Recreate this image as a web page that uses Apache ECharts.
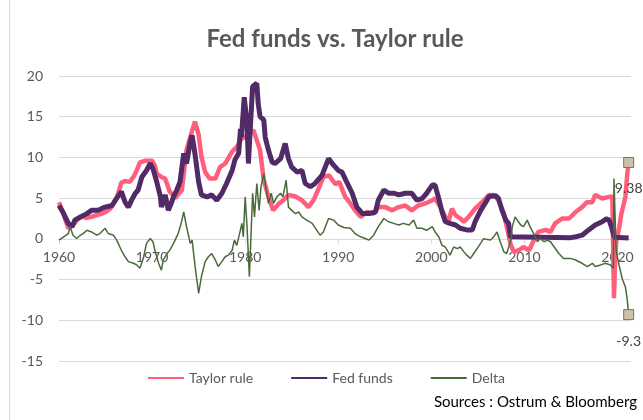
<!DOCTYPE html>
<html>
<head>
<meta charset="utf-8">
<script src="https://cdn.jsdelivr.net/npm/echarts@6/dist/echarts.min.js"></script>
<style>
    html, body { margin: 0; padding: 0; background: #fff; }
    #chart { width: 643px; height: 420px; }
</style>
</head>
<body>
<div id="chart"></div>
<script>
// values, [year, %]
var taylorRule = [
    [1960,4.5],[1960.5,3.0],[1961,1.3],[1961.5,1.7],[1962,2.4],[1962.4,2.7],[1963,2.6],[1963.5,2.7],[1964,2.9],[1964.6,3.1],
    [1965,3.3],[1965.5,3.7],[1966,4.6],[1966.2,5.0],[1966.7,6.9],[1967.1,7.1],[1967.6,7.0],[1968,7.6],[1968.35,8.4],[1968.7,9.4],
    [1969.3,9.6],[1970,9.6],[1970.3,9.0],[1970.5,8.0],[1971,7.6],[1971.4,7.4],[1971.9,5.8],[1972.5,5.0],[1973.2,6.0],[1973.7,10.9],
    [1974.3,13.3],[1974.6,14.4],[1975,12.8],[1975.3,10.1],[1975.7,8.2],[1976.2,7.4],[1976.8,7.4],[1977.3,8.8],[1977.85,9.25],[1978.6,10.7],
    [1979.1,11.3],[1979.6,12.3],[1980,12.5],[1980.5,13.1],[1980.9,13.3],[1981.25,12.1],[1981.6,10.9],[1982,7.2],[1982.5,5.2],[1983,3.5],
    [1983.6,4.3],[1984.1,4.75],[1984.65,5.4],[1985.4,5.2],[1986.1,4.75],[1986.8,3.9],[1987.35,4.75],[1987.9,6.2],[1988.4,7.6],[1989,7.8],
    [1989.7,6.7],[1990.1,7.0],[1990.75,5.15],[1991.3,4.35],[1991.8,3.5],[1992.4,2.7],[1993.1,3.3],[1993.8,3.1],[1994.3,3.9],[1995.05,3.9],
    [1995.8,3.5],[1996.5,3.9],[1997.2,4.1],[1997.9,3.5],[1998.6,4.1],[1999.35,4.35],[2000.1,4.75],[2000.4,4.95],[2000.97,3.9],[2001.5,2.7],
    [2001.9,2.3],[2002.2,3.7],[2002.6,2.9],[2003.1,2.5],[2003.5,2.1],[2004,2.7],[2004.7,3.7],[2005.45,4.5],[2006.2,5.4],[2006.7,5.4],
    [2007.2,4.75],[2007.8,3.1],[2008.1,1.5],[2008.5,-0.6],[2008.85,-1.6],[2009.4,-1.4],[2009.9,-1.0],[2010.5,-1.4],[2011,-0.2],[2011.5,0.85],
    [2012.3,1.1],[2012.8,0.85],[2013.3,1.9],[2014.05,2.5],[2014.8,2.5],[2015.5,3.3],[2016.2,3.9],[2016.7,4.5],[2017.3,4.5],[2017.6,5.4],
    [2018.35,4.95],[2019.1,5.15],[2019.45,5.2],[2019.62,-7.3],[2019.7,-4.0],[2019.85,-0.5],[2020.2,1.5],[2020.4,3.0],[2020.85,5.15],[2021.05,8.0],
    [2021.2,9.38]
];

var fedFunds = [
    [1960,4.1],[1960.5,3.1],[1961,1.9],[1961.4,1.5],[1961.7,2.3],[1962.3,2.7],[1963,3.1],[1963.5,3.5],[1964.2,3.5],[1964.95,3.9],
    [1965.7,4.1],[1966.2,5.0],[1966.7,5.8],[1967.1,4.5],[1967.45,3.9],[1967.8,4.75],[1968.2,5.6],[1968.5,6.0],[1968.9,7.6],[1969.4,8.4],
    [1969.8,9.25],[1970.1,8.6],[1970.5,7.0],[1970.9,5.15],[1971,3.9],[1971.4,5.4],[1971.75,3.5],[1972.1,4.5],[1972.3,5.15],[1972.65,6.0],
    [1973,7.0],[1973.4,10.5],[1973.7,9.25],[1974.1,11.9],[1974.3,12.7],[1974.6,10.5],[1975,7.0],[1975.3,5.4],[1975.9,5.15],[1976.4,5.4],
    [1976.95,4.75],[1977.5,5.6],[1978,6.8],[1978.6,8.4],[1978.9,9.7],[1979.3,10.5],[1979.5,13.5],[1979.6,12.5],[1979.9,17.4],[1980.2,14.2],
    [1980.35,9.25],[1980.5,12.5],[1980.8,18.7],[1981.25,19.1],[1981.4,16.6],[1981.6,15.0],[1982,14.6],[1982.15,12.5],[1982.5,10.9],[1982.9,9.4],
    [1983.2,9.25],[1983.8,9.85],[1984.3,11.7],[1984.65,9.85],[1985,8.8],[1985.6,8.2],[1986.1,8.4],[1986.45,6.8],[1987,6.4],[1987.5,6.8],
    [1988.25,7.8],[1988.96,9.85],[1989.5,9.05],[1990,8.4],[1990.4,8.2],[1990.9,7.0],[1991.5,5.6],[1992,3.9],[1992.6,3.1],[1993.3,3.1],
    [1994,3.3],[1994.3,4.75],[1994.9,6.0],[1995.4,5.6],[1996,5.6],[1996.5,5.4],[1997.2,5.6],[1997.9,5.6],[1998.45,4.75],[1999,4.95],
    [1999.5,5.6],[2000.1,6.6],[2000.4,6.6],[2000.8,4.95],[2001.15,3.3],[2001.5,2.1],[2002,1.9],[2002.6,1.7],[2003.1,1.3],[2003.8,1.1],
    [2004.4,1.1],[2004.7,2.1],[2005.3,3.5],[2005.8,4.4],[2006.2,5.2],[2006.9,5.3],[2007.2,5.0],[2007.6,3.5],[2008,2.3],[2008.3,1.9],
    [2008.5,0.25],[2008.7,0.15],[2015,0.15],[2015.5,0.25],[2016.2,0.45],[2016.9,1.1],[2017.6,1.7],[2018.35,2.1],[2018.8,2.45],[2019.1,2.3],
    [2019.4,1.3],[2019.65,0.2],[2019.8,0.12],[2021.2,0.12]
];

var delta = [
    [1960,-0.15],[1960.5,0.25],[1961,0.65],[1961.2,1.5],[1961.5,0.45],[1961.9,0.05],[1962.3,0.45],[1962.6,0.65],[1963,1.05],[1963.5,0.85],
    [1964.05,0.45],[1964.4,0.65],[1964.95,1.3],[1965.3,0.65],[1965.85,0.45],[1966.2,-0.15],[1966.7,-1.4],[1967.1,-2.2],[1967.45,-2.8],[1968,-3.0],
    [1968.35,-3.2],[1968.7,-3.6],[1969.1,-2.2],[1969.4,-0.55],[1969.8,0.05],[1970.1,-0.35],[1970.3,-1.4],[1970.7,-3.0],[1971,-3.85],[1971.2,-2.6],
    [1971.6,-1.8],[1971.9,-1.4],[1972.3,-0.55],[1972.8,0.65],[1973.1,1.8],[1973.4,3.3],[1973.7,1.5],[1974.1,-0.55],[1974.3,-0.15],[1974.6,-3.2],
    [1975,-6.7],[1975.3,-4.65],[1975.7,-2.8],[1976.05,-2.2],[1976.4,-1.8],[1976.8,-2.6],[1977.1,-3.4],[1977.5,-2.8],[1977.85,-2.2],[1978.2,-2.0],
    [1978.6,-1.4],[1978.85,-0.15],[1979.1,-0.8],[1979.4,0.65],[1979.65,1.9],[1979.8,0.25],[1980,5.15],[1980.2,1.5],[1980.35,-2.2],[1980.45,-4.65],
    [1980.65,1.05],[1980.8,5.6],[1981,2.7],[1981.25,6.8],[1981.5,3.5],[1981.7,6.4],[1982,8.0],[1982.2,6.4],[1982.5,4.35],[1982.8,5.6],
    [1983.05,4.35],[1983.4,5.15],[1983.8,5.6],[1984.05,5.15],[1984.4,7.2],[1984.65,3.9],[1985,3.5],[1985.4,3.1],[1985.75,3.3],[1986.1,2.7],
    [1986.6,2.3],[1987.2,1.9],[1987.7,1.05],[1988.05,0.45],[1988.4,0.85],[1988.96,2.5],[1989.5,2.3],[1990,1.7],[1990.6,1.4],[1991.3,1.3],
    [1991.8,0.65],[1992.4,0.25],[1992.9,0.05],[1993.3,-0.15],[1993.8,0.45],[1994.3,1.5],[1994.9,2.5],[1995.4,2.1],[1995.95,1.9],[1996.5,1.7],
    [1997,1.9],[1997.6,1.7],[1998.1,2.3],[1998.45,1.3],[1999,1.3],[1999.5,1.05],[2000.1,1.5],[2000.4,0.85],[2000.8,0.25],[2001.15,-0.8],
    [2001.5,-1.0],[2002,-2.0],[2002.4,-1.0],[2002.8,-1.2],[2003.1,-1.0],[2003.5,-1.6],[2003.8,-2.0],[2004.2,-2.4],[2004.55,-1.8],[2005.1,-0.9],
    [2005.6,0.0],[2006.35,-0.15],[2006.7,0.25],[2007.05,0.85],[2007.4,-0.35],[2007.8,-1.6],[2008.1,-1.8],[2008.5,-0.35],[2008.7,1.5],[2009,2.7],
    [2009.2,2.9],[2009.6,1.7],[2009.9,1.5],[2010.3,2.3],[2010.6,1.5],[2011,0.65],[2011.4,-0.35],[2011.7,0.05],[2012.1,-0.35],[2012.45,-0.15],
    [2012.8,-0.35],[2013.2,-1.0],[2013.7,-1.8],[2014.2,-2.4],[2014.95,-2.4],[2015.5,-2.6],[2016.2,-3.0],[2016.75,-3.4],[2017.3,-3.0],[2017.6,-3.4],
    [2018.2,-3.2],[2018.7,-3.0],[2019.25,-3.2],[2019.55,-3.6],[2019.62,7.4],[2019.85,-1.4],[2020.2,-3.4],[2020.55,-5.05],[2020.85,-5.9],[2021.05,-7.5],
    [2021.2,-9.3]
];

var yearTicks = [1960, 1970, 1980, 1990, 2000, 2010, 2020];

var FONT = 'Lato';
var GRID = '#d9d9d9';
var TXT = '#595959';

// plot box, px
var gridTop = 76, gridBottom = 59, chartH = 420;
var yMin = -15, yMax = 20;
// move the x axis up onto the zero line
var plotH = chartH - gridTop - gridBottom;
var zeroOffset = -plotH * (0 - yMin) / (yMax - yMin);

function lastPoint(arr) {
    var p = arr[arr.length - 1];
    return { coord: p, value: p[1] };
}

function endMarker(arr) {
    return {
        symbol: 'rect',
        symbolSize: 10,
        silent: true,
        itemStyle: { color: '#cbc2ab', borderColor: '#6d7b5a', borderWidth: 1 },
        label: {
            show: true,
            position: 'bottom',
            distance: 14,
            color: '#404040',
            fontFamily: FONT,
            fontSize: 14
        },
        data: [lastPoint(arr)]
    };
}

var chart = echarts.init(document.getElementById('chart'));

var option = {
    backgroundColor: '#fff',
    animation: false,
    title: {
        text: 'Fed funds vs. Taylor rule',
        left: 330,
        textAlign: 'center',
        top: 22,
        textStyle: { fontFamily: FONT, fontSize: 24, fontWeight: 'bold', color: TXT }
    },
    legend: {
        left: 142,
        top: 366,
        itemWidth: 36,
        itemHeight: 2,
        itemGap: 37,
        textStyle: { fontFamily: FONT, fontSize: 14, color: TXT },
        data: ['Taylor rule', 'Fed funds', 'Delta']
    },
    grid: {
        left: 59,
        right: 12,
        top: gridTop,
        bottom: gridBottom,
        outerBoundsMode: 'none'
    },
    xAxis: {
        type: 'value',
        min: 1960,
        max: 2021.45,
        interval: 10,
        offset: zeroOffset,
        axisLine: { show: true, onZero: false, lineStyle: { color: GRID, width: 1 } },
        axisTick: { show: true, length: 5, customValues: yearTicks, lineStyle: { color: GRID } },
        axisLabel: {
            customValues: yearTicks,
            margin: 12,
            color: TXT,
            fontFamily: FONT,
            fontSize: 14,
            formatter: function (v) { return v % 10 === 0 ? String(v) : ''; }
        },
        splitLine: { show: false }
    },
    yAxis: {
        type: 'value',
        min: yMin,
        max: yMax,
        interval: 5,
        axisLine: { show: false },
        axisTick: { show: false },
        axisLabel: { margin: 16, color: TXT, fontFamily: FONT, fontSize: 14 },
        splitLine: { lineStyle: { color: GRID, width: 1 } }
    },
    series: [
        {
            name: 'Taylor rule',
            type: 'line',
            symbol: 'none',
            color: '#ff5f7c',
            lineStyle: { color: '#ff5f7c', width: 4.5 },
            data: taylorRule,
            markPoint: endMarker(taylorRule),
            z: 2
        },
        {
            name: 'Fed funds',
            type: 'line',
            symbol: 'none',
            color: '#512a68',
            lineStyle: { color: '#512a68', width: 5 },
            data: fedFunds,
            z: 3
        },
        {
            name: 'Delta',
            type: 'line',
            symbol: 'none',
            color: '#4b6a3c',
            lineStyle: { color: '#4b6a3c', width: 1.5 },
            data: delta,
            markPoint: endMarker(delta),
            z: 4
        }
    ],
    graphic: [
        {
            type: 'line',
            shape: { x1: 9.5, y1: 0, x2: 9.5, y2: 420 },
            style: { stroke: GRID, lineWidth: 1 },
            silent: true
        },
        {
            type: 'text',
            right: 6,
            top: 395,
            style: {
                text: 'Sources : Ostrum & Bloomberg',
                fill: '#000',
                font: '15px ' + FONT
            },
            silent: true
        }
    ]
};

chart.setOption(option);
</script>
</body>
</html>
